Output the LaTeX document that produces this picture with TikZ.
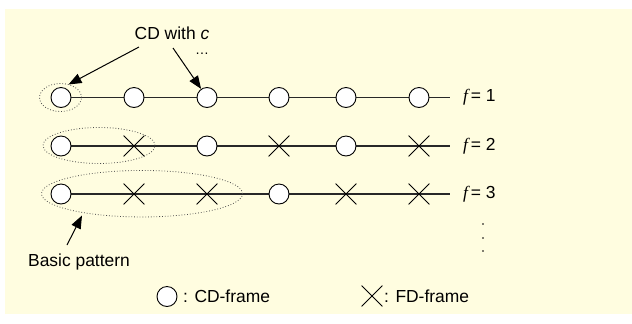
\documentclass[tikz,border=0pt]{standalone}
\usepackage{fontspec}
\setmainfont{Liberation Sans}
\newfontfamily\serifit{Liberation Serif}
\usetikzlibrary{arrows.meta,shapes.geometric,shapes.misc,backgrounds}
\definecolor{bgyellow}{RGB}{255,253,224}
\definecolor{linegray}{RGB}{40,40,40}
\tikzset{
  cdnode/.style={circle,draw=black,fill=white,line width=0.9bp,minimum size=20bp,inner sep=0pt},
  fdnode/.style={cross out,draw=black,line width=0.8bp,minimum size=20bp,inner sep=0pt},
  rowline/.style={draw=linegray,line width=1.3bp},
  patell/.style={ellipse,draw=black!70,dotted,line width=0.8bp,inner sep=0pt},
  callout/.style={draw=black,line width=1bp,-{Triangle[length=13bp,width=10bp]}},
  lbl/.style={font=\fontsize{17.5}{20}\selectfont,inner sep=0pt},
  dotmark/.style={circle,fill=black,inner sep=0pt,minimum size=1.6bp}
}
\begin{document}
\begin{tikzpicture}[x=1bp,y=-1bp]
\useasboundingbox (0,0) rectangle (632,323);
\begin{scope}[on background layer]
  \fill[bgyellow] (5,9) rectangle (632,314);
\end{scope}

% row 1
\node[cdnode] (a1) at (61,97.5) {};
\node[cdnode] (a2) at (134,97.5) {};
\node[cdnode] (a3) at (207,97.5) {};
\node[cdnode] (a4) at (279,97.5) {};
\node[cdnode] (a5) at (346,97.5) {};
\node[cdnode] (a6) at (419,97.5) {};
\coordinate (aend) at (450,97.5);
% row 2
\node[cdnode] (b1) at (61,146) {};
\node[fdnode] (b2) at (134,146) {};
\node[cdnode] (b3) at (207,146) {};
\node[fdnode] (b4) at (279,146) {};
\node[cdnode] (b5) at (346,146) {};
\node[fdnode] (b6) at (419,146) {};
\coordinate (bend) at (450,146);
% row 3
\node[cdnode] (c1) at (61,194) {};
\node[fdnode] (c2) at (134,194) {};
\node[fdnode] (c3) at (207,194) {};
\node[cdnode] (c4) at (279,194) {};
\node[fdnode] (c5) at (346,194) {};
\node[fdnode] (c6) at (419,194) {};
\coordinate (cend) at (450,194);

\begin{scope}[on background layer]
  \draw[rowline] (a1.center) -- (aend);
  \draw[rowline] (b1.center) -- (bend);
  \draw[rowline] (c1.center) -- (cend);
\end{scope}

% labels f
\node[lbl,anchor=west] (fa) at (463,97.5) {{\serifit\itshape f}\,= 1};
\node[lbl,anchor=west] (fb) at (463,146) {{\serifit\itshape f}\,= 2};
\node[lbl,anchor=west] (fc) at (463,194.5) {{\serifit\itshape f}\,= 3};

% vertical dots
\node[dotmark] (d1) at (483,224) {};
\node[dotmark] (d2) at (483,238) {};
\node[dotmark] (d3) at (483,251) {};

% dotted ellipses
\node[patell,minimum width=42bp,minimum height=28bp] (e1) at (60.5,97.5) {};
\node[patell,minimum width=112bp,minimum height=36bp] (e2) at (99,145.5) {};
\node[patell,minimum width=201bp,minimum height=46.5bp] (e3) at (142,193.7) {};

% CD with c
\node[lbl] (cdtext) at (172,33.5) {CD with \textit{c}};
\node[font=\fontsize{14}{14}\selectfont,inner sep=0pt] (cddots) at (202,54) {…};
\coordinate (cds1) at (139,47);
\coordinate (cdt1) at (68.5,84.5);
\coordinate (cds2) at (173,48);
\draw[callout] (cds1) -- (cdt1);
\draw[callout] (cds2) -- (a3);

% Basic pattern
\node[lbl] (bptext) at (79,262) {Basic pattern};
\coordinate (bps) at (67,245);
\coordinate (bpt) at (82,215.5);
\draw[callout] (bps) -- (bpt);

% legend
\node[cdnode] (lcd) at (167,296.5) {};
\node[lbl,anchor=west] (lcdt) at (183,296.5) {: CD-frame};
\node[fdnode] (lfd) at (372,296) {};
\node[lbl,anchor=west] (lfdt) at (384,296.5) {: FD-frame};
\end{tikzpicture}
\end{document}
